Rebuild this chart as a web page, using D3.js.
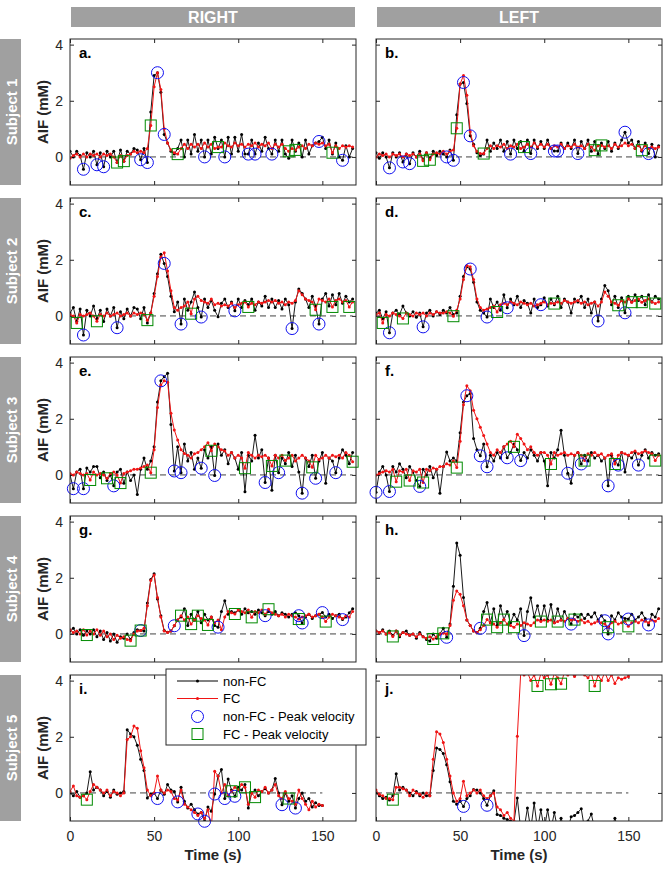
<!DOCTYPE html>
<html>
<head>
<meta charset="utf-8">
<script src="https://cdn.jsdelivr.net/npm/d3@7"></script>
<style>
  body { margin: 0; background: #fff; }
  text { font-family: "Liberation Sans", Arial, Helvetica, sans-serif; }
</style>
</head>
<body>
<div id="chart"></div>
<script>
// ---- data (AIF in mM, time in s) ----
const colNames = ["RIGHT", "LEFT"];
const rowNames = ["Subject 1", "Subject 2", "Subject 3", "Subject 4", "Subject 5"];
const panelLetters = ["a.", "b.", "c.", "d.", "e.", "f.", "g.", "h.", "i.", "j."];
const xTicks = [0, 50, 100, 150];
const yTicks = [0, 2, 4];
const legendLabels = ["non-FC", "FC", "non-FC - Peak velocity", "FC - Peak velocity"];

const timeLong = [0,2,4,6,8,10,12,14,16,18,20,22,24,26,28,30,32,34,36,38,40,42,44,46,48,50,52,54,56,58,
  60,62,64,66,68,70,72,74,76,78,80,82,84,86,88,90,92,94,96,98,100,102,104,106,108,110,112,114,116,118,
  120,122,124,126,128,130,132,134,136,138,140,142,144,146,148,150,152,154,156,158,160,162,164,166,168];
const timeShort = [0,2,4,6,8,10,12,14,16,18,20,22,24,26,28,30,32,34,36,38,40,42,44,46,48,50,52,54,56,58,
  60,62,64,66,68,70,72,74,76,78,80,82,84,86,88,90,92,94,96,98,100,102,104,106,108,110,112,114,116,118,
  120,122,124,126,128,130,132,134,136,138,140,142,144,146,148,150];

// a. Subject 1 right
const aNon = [0.2,0.0,0.2,0.05,-0.44,0.15,0.0,0.2,-0.28,0.15,
  -0.35,0.2,0.0,0.2,-0.2,0.25,-0.15,0.2,0.1,0.3,
  0.25,-0.1,0.3,-0.2,1.6,2.9,3.0,2.3,0.8,0.5,
  0.2,0.1,0.3,0.6,0.0,0.6,0.1,0.8,0.2,0.6,
  0.0,0.6,0.1,0.7,0.3,0.6,0.0,0.7,0.1,0.7,
  0.2,0.8,0.1,0.1,0.6,0.1,0.5,0.2,0.7,0.3,
  0.1,0.6,0.2,0.6,0.1,-0.05,0.6,0.2,0.5,0.0,
  0.6,0.1,0.4,0.5,0.55,0.7,0.3,0.6,0.1,0.5,
  0.0,-0.12,0.4,0.0,0.3];
const aFC = [-0.05,0.05,0.1,0.0,0.1,0.0,0.1,0.05,0.1,0.0,
  0.1,0.05,0.1,0.0,-0.2,0.05,-0.15,0.05,0.1,0.2,
  0.15,0.2,0.15,0.3,1.12,2.5,3.0,2.4,1.0,0.5,
  0.25,0.15,0.1,0.3,0.45,0.3,0.45,0.35,0.45,0.3,
  0.5,0.35,0.45,0.3,0.35,0.35,0.5,0.4,0.35,0.5,
  0.4,0.45,0.35,0.45,0.4,0.5,0.35,0.45,0.4,0.5,
  0.3,0.45,0.35,0.45,0.3,0.2,0.3,0.25,0.35,0.4,
  0.3,0.45,0.4,0.5,0.45,0.5,0.4,0.45,0.15,0.4,
  0.3,0.4,0.35,0.4,0.35];
const aCirc = [[8,-0.44],[16,-0.28],[20,-0.35],[42,-0.1],[46,-0.2],[52,3.0],[56,0.8],[80,0.0],[92,0.0],[106,0.1],[110,0.1],[120,0.1],[148,0.55],[162,-0.12]];
const aSq = [[28,-0.2],[32,-0.15],[48,1.12],[64,0.1],[88,0.35],[130,0.2],[134,0.25],[156,0.15]];

// b. Subject 1 left
const bNon = [0.15,-0.05,0.15,0.0,-0.39,0.15,0.0,0.15,-0.18,0.1,
  -0.24,0.15,0.0,0.2,-0.1,0.15,-0.05,0.2,0.05,0.2,
  0.1,0.0,0.25,-0.12,1.5,2.6,2.65,1.9,0.75,0.45,
  0.15,0.05,0.1,0.6,0.2,0.5,0.3,0.6,0.2,0.55,
  0.1,0.6,0.3,0.55,0.2,0.6,0.12,0.6,0.3,0.55,
  0.3,0.6,0.3,0.21,0.21,0.5,0.3,0.5,0.3,0.6,
  0.12,0.55,0.3,0.6,0.2,0.55,0.1,0.5,0.3,0.55,
  0.2,0.5,0.3,0.6,0.88,0.5,0.6,0.3,0.55,0.2,
  0.5,0.12,0.45,0.0,0.4];
const bFC = [0.0,0.1,0.05,0.1,0.0,0.1,0.05,0.1,0.0,0.1,
  0.05,0.1,0.0,0.1,-0.14,0.15,-0.1,0.1,0.15,0.1,
  0.2,0.1,0.2,0.25,1.02,2.6,2.9,2.2,0.9,0.4,
  0.2,0.12,0.12,0.3,0.4,0.3,0.4,0.35,0.45,0.3,
  0.4,0.35,0.45,0.3,0.35,0.45,0.35,0.5,0.35,0.45,
  0.35,0.45,0.3,0.4,0.35,0.45,0.3,0.4,0.35,0.45,
  0.35,0.4,0.3,0.45,0.35,0.24,0.4,0.41,0.35,0.4,
  0.3,0.45,0.35,0.4,0.5,0.4,0.45,0.3,0.4,0.24,
  0.4,0.3,0.35,0.3,0.35];
const bCirc = [[8,-0.39],[16,-0.18],[20,-0.24],[42,0],[46,-0.12],[52,2.65],[56,0.75],[80,0.1],[92,0.12],[106,0.21],[108,0.21],[120,0.12],[148,0.88],[162,0.12]];
const bSq = [[28,-0.14],[32,-0.1],[48,1.02],[64,0.12],[88,0.35],[130,0.24],[134,0.41],[158,0.24]];

// c. Subject 2 right
const cNon = [0.1,0.3,-0.2,0.25,-0.68,0.2,0.0,0.35,-0.1,0.2,
  -0.2,0.25,0.0,0.3,-0.42,0.15,-0.1,0.25,0.0,0.3,
  0.25,-0.1,0.3,-0.25,0.1,0.8,1.5,2.2,1.87,1.4,
  0.7,0.15,0.5,-0.29,0.6,0.2,0.5,0.85,0.3,-0.04,
  0.6,0.3,0.55,0.2,-0.03,0.45,0.6,0.3,0.5,0.18,
  0.6,0.3,0.55,0.4,0.6,0.2,0.5,0.35,0.7,0.3,
  0.6,0.3,0.55,0.25,0.6,0.4,-0.45,0.5,0.96,0.8,
  0.6,0.3,0.7,0.35,-0.29,0.6,0.8,0.35,0.75,0.4,
  0.8,0.45,0.7,0.5,0.6];
const cFC = [0.05,0.0,-0.25,0.05,0.0,0.05,0.1,0.0,-0.19,0.05,
  0.0,0.1,0.0,0.05,0.1,0.0,0.05,0.1,0.0,0.1,
  0.05,0.1,0.05,-0.15,0.1,0.7,1.4,2.1,2.25,1.6,
  0.9,0.3,0.2,0.3,0.35,0.5,0.08,0.6,0.7,0.55,
  0.5,0.45,0.6,0.4,0.45,0.35,0.4,0.35,0.45,0.3,
  0.4,0.45,0.5,0.32,0.45,0.4,0.5,0.45,0.5,0.55,
  0.5,0.55,0.45,0.5,0.4,0.5,0.45,0.55,0.9,0.75,
  0.6,0.55,0.5,0.22,0.6,0.55,0.5,0.6,0.32,0.55,
  0.6,0.5,0.55,0.32,0.5];
const cCirc = [[8,-0.68],[28,-0.42],[56,1.87],[66,-0.29],[78,-0.04],[98,0.18],[132,-0.45],[148,-0.29]];
const cSq = [[4,-0.25],[16,-0.19],[46,-0.15],[72,0.08],[106,0.32],[146,0.22],[156,0.32],[166,0.32]];

// d. Subject 2 left
const dNon = [0.1,0.2,-0.1,0.15,-0.6,0.1,0.2,0.05,0.35,0.1,
  0.0,0.15,-0.05,0.1,-0.39,0.1,0.2,0.0,0.15,0.05,
  0.2,0.1,0.3,0.05,0.1,0.7,1.4,1.75,1.67,1.2,
  0.5,0.2,0.1,-0.04,0.6,0.3,0.5,0.2,0.75,0.29,
  0.6,0.4,0.7,0.3,0.55,0.45,0.1,0.6,0.3,0.4,
  0.65,0.35,0.6,0.4,0.7,0.3,0.6,0.5,0.1,0.6,
  0.5,0.7,0.3,0.6,0.1,0.5,-0.18,0.6,1.08,0.9,
  0.4,0.7,0.3,0.65,0.11,0.7,0.5,0.75,0.55,0.7,
  0.4,0.75,0.5,0.7,0.6];
const dFC = [0.05,0.1,-0.25,0.05,0.0,0.1,0.05,0.0,-0.09,0.1,
  0.05,0.0,0.1,0.05,0.1,0.0,0.1,0.05,0.15,0.1,
  0.1,0.15,0.1,-0.01,0.2,0.6,1.3,1.8,1.75,1.3,
  0.6,0.3,0.2,0.25,0.3,0.35,0.14,0.4,0.45,0.4,
  0.5,0.45,0.4,0.5,0.45,0.4,0.45,0.35,0.4,0.45,
  0.5,0.4,0.45,0.44,0.5,0.45,0.55,0.5,0.45,0.5,
  0.55,0.45,0.5,0.4,0.45,0.5,0.35,0.5,0.85,0.7,
  0.5,0.45,0.38,0.55,0.5,0.6,0.49,0.55,0.6,0.49,
  0.55,0.6,0.5,0.44,0.5];
const dCirc = [[8,-0.6],[28,-0.39],[56,1.67],[66,-0.04],[78,0.29],[98,0.4],[132,-0.18],[148,0.11]];
const dSq = [[4,-0.25],[16,-0.09],[46,-0.01],[72,0.14],[106,0.44],[144,0.38],[152,0.49],[158,0.49],[166,0.44]];

// e. Subject 3 right
const eNon = [0.0,-0.49,0.1,0.2,-0.49,0.25,0.1,0.3,0.3,-0.1,
  0.1,-0.2,0.0,-0.39,0.1,0.2,-0.3,0.1,-0.2,0.0,
  -0.7,0.2,0.6,0.2,0.5,1.0,2.6,3.35,3.5,3.62,
  1.8,0.14,1.0,0.08,1.1,0.5,0.8,0.2,0.6,0.24,
  0.9,0.6,1.0,-0.02,1.1,0.7,0.9,0.4,0.8,0.6,
  0.2,0.8,-0.6,0.7,0.5,1.41,0.6,0.9,-0.27,0.6,
  -0.55,0.7,0.08,0.6,0.4,0.8,0.3,0.7,0.1,-0.65,
  0.6,0.3,0.7,-0.12,0.5,0.8,-0.3,0.6,0.5,0.08,
  0.6,0.9,0.7,0.4,0.8];
const eFC = [0.05,0.0,0.1,0.05,0.0,0.05,-0.18,0.1,0.0,0.05,
  0.0,-0.12,0.05,0.1,0.0,-0.29,0.05,0.1,0.15,0.2,
  0.2,0.25,0.3,0.35,0.08,0.9,2.4,3.2,3.35,3.3,
  2.2,1.6,1.24,0.9,0.76,0.7,0.6,0.75,0.8,0.9,
  1.0,1.15,0.86,1.1,1.0,0.9,0.85,0.7,0.8,0.6,
  0.7,0.6,0.24,0.8,0.7,0.6,0.7,0.65,0.7,0.6,
  0.32,0.7,0.6,0.7,0.51,0.6,0.7,0.5,0.6,0.7,
  0.6,0.5,0.27,0.7,0.55,0.6,0.7,0.6,0.7,0.65,
  0.7,0.6,0.8,0.7,0.47];
const eCirc = [[2,-0.49],[8,-0.49],[26,-0.39],[54,3.35],[62,0.14],[66,0.08],[78,0.24],[86,-0.02],[116,-0.27],[124,0.08],[138,-0.65],[146,-0.12],[158,0.08]];
const eSq = [[12,-0.18],[22,-0.12],[30,-0.29],[48,0.08],[84,0.86],[104,0.24],[120,0.32],[128,0.51],[144,0.27],[168,0.47]];

// f. Subject 3 left
const fNon = [-0.62,0.1,0.3,0.0,-0.59,0.3,0.1,0.4,0.2,-0.1,
  0.3,0.1,-0.2,-0.41,0.2,0.0,0.3,-0.1,0.2,-0.65,
  0.3,0.82,0.5,0.6,0.5,1.5,2.6,2.82,2.9,1.3,
  0.9,0.68,1.1,0.29,0.7,0.5,0.8,0.6,1.0,0.61,
  0.8,1.1,0.9,0.51,0.8,0.6,0.9,0.7,0.5,0.8,
  0.5,-0.39,0.8,0.6,0.9,1.59,0.7,0.06,-0.3,0.7,
  0.8,0.39,0.7,0.5,0.8,0.6,0.7,0.5,0.6,-0.39,
  0.7,0.5,0.35,0.8,0.1,0.7,0.6,0.8,0.35,0.7,
  0.9,0.6,0.8,0.7,0.75];
const fFC = [0.0,0.05,0.1,0.15,0.1,0.2,-0.24,0.15,0.1,0.2,
  -0.2,0.15,0.1,0.2,-0.27,0.2,0.15,0.25,0.2,0.3,
  0.3,0.4,0.35,0.5,0.26,1.2,2.5,3.18,3.0,2.3,
  2.0,1.7,1.4,1.1,0.8,0.7,0.9,0.8,1.0,1.1,
  1.2,1.0,1.45,1.3,1.1,0.9,1.0,0.8,0.7,0.8,
  0.8,0.7,0.39,0.8,0.7,0.75,0.8,0.7,0.75,0.7,
  0.8,0.7,0.51,0.75,0.7,0.8,0.7,0.75,0.6,0.7,
  0.75,0.39,0.7,0.8,0.75,0.7,0.8,0.85,0.75,0.8,
  0.85,0.8,0.75,0.51,0.7];
const fCirc = [[0,-0.62],[8,-0.59],[26,-0.41],[54,2.82],[62,0.68],[66,0.29],[78,0.61],[86,0.51],[114,0.06],[122,0.39],[138,-0.39],[144,0.35],[156,0.35]];
const fSq = [[12,-0.24],[20,-0.2],[28,-0.27],[48,0.26],[82,1.0],[104,0.39],[124,0.51],[142,0.39],[166,0.51]];

// g. Subject 4 right
const gNon = [0.1,0.2,0.0,0.15,-0.05,0.1,0.0,0.15,-0.1,0.1,
  -0.2,0.05,-0.25,0.0,-0.3,-0.1,-0.15,0.0,-0.2,0.05,
  0.15,0.12,0.1,1.1,1.94,2.14,1.24,0.65,0.12,0.06,
  0.1,0.29,0.5,0.6,0.9,0.3,0.7,0.5,0.8,0.4,
  0.7,0.5,0.6,0.3,0.24,0.8,1.18,0.7,0.8,0.75,
  0.85,0.7,0.9,0.75,0.8,0.7,0.85,0.75,0.65,0.8,
  0.7,0.8,0.65,0.75,0.7,0.6,0.7,0.75,0.65,0.39,
  0.6,0.7,0.55,0.65,0.7,0.76,0.6,0.7,0.55,0.65,
  0.7,0.51,0.6,0.75,0.9];
const gFC = [0.15,0.05,0.1,0.0,0.15,-0.04,0.1,0.0,0.15,-0.05,
  0.1,-0.1,0.0,-0.2,-0.05,-0.15,-0.1,-0.2,-0.24,0.0,
  0.1,0.12,0.2,1.0,1.9,2.1,1.3,0.6,0.1,0.05,
  0.1,0.3,0.5,0.65,0.5,0.6,0.35,0.5,0.65,0.55,
  0.5,0.32,0.6,0.4,0.5,0.15,0.6,0.8,0.75,0.71,
  0.85,0.8,0.75,0.85,0.59,0.8,0.75,0.85,0.7,0.88,
  0.75,0.7,0.65,0.7,0.6,0.7,0.65,0.6,0.53,0.6,
  0.65,0.7,0.6,0.65,0.7,0.6,0.44,0.6,0.7,0.65,
  0.6,0.55,0.65,0.6,0.8];
const gCirc = [[42,0.12],[62,0.29],[88,0.24],[116,0.65],[136,0.65],[138,0.39],[150,0.76],[162,0.51]];
const gSq = [[10,-0.04],[36,-0.24],[42,0.12],[66,0.65],[72,0.35],[76,0.65],[82,0.32],[98,0.71],[108,0.59],[118,0.88],[136,0.53],[152,0.44]];

// h. Subject 4 left
const hNon = [0.1,0.05,0.15,0.0,0.1,-0.05,0.1,-0.1,0.05,0.1,
  -0.05,0.0,-0.15,0.05,-0.1,-0.2,-0.25,0.0,-0.15,0.0,
  0.2,-0.12,0.35,1.7,3.24,2.8,1.3,0.5,0.3,0.1,
  0.05,0.2,0.8,1.12,0.4,0.9,0.3,1.0,0.5,0.8,
  0.4,0.7,0.5,0.9,-0.06,0.8,1.29,0.6,1.0,0.5,
  1.0,0.5,1.05,0.4,0.9,0.5,0.8,0.55,0.35,0.7,
  0.6,0.7,0.55,0.7,0.6,0.75,0.5,0.65,0.47,0.0,
  0.65,0.5,0.75,0.6,0.55,0.53,0.7,0.5,0.6,0.75,
  0.55,0.32,0.7,0.6,0.9];
const hFC = [0.1,0.05,0.1,0.0,0.05,-0.09,0.1,-0.05,0.05,0.0,
  -0.05,0.0,-0.1,0.0,-0.1,-0.15,-0.1,-0.18,-0.1,0.0,
  0.02,0.0,0.3,1.2,1.53,1.41,1.0,0.5,0.3,0.1,
  0.05,0.15,0.3,0.51,0.4,0.35,0.24,0.4,0.51,0.35,
  0.3,0.24,0.35,0.3,0.4,0.35,0.3,0.4,0.5,0.44,
  0.5,0.45,0.5,0.4,0.44,0.5,0.45,0.55,0.5,0.51,
  0.45,0.5,0.4,0.45,0.35,0.4,0.45,0.4,0.35,0.24,
  0.4,0.45,0.35,0.4,0.45,0.27,0.4,0.45,0.4,0.5,
  0.45,0.4,0.5,0.45,0.55];
const hCirc = [[42,-0.12],[62,0.2],[88,-0.06],[116,0.35],[136,0.47],[138,0.0],[150,0.53],[162,0.32]];
const hSq = [[10,-0.09],[34,-0.18],[40,0.02],[66,0.51],[72,0.24],[76,0.51],[82,0.24],[98,0.44],[108,0.44],[118,0.51],[138,0.24],[150,0.27]];

// i. Subject 5 right
const iNon = [0.0,-0.1,0.05,-0.15,-0.1,0.0,0.75,0.1,0.2,0.1,
  -0.1,0.05,-0.15,0.1,-0.05,0.0,0.05,2.25,2.1,2.0,
  1.7,1.2,0.8,-0.18,-0.05,0.0,-0.2,0.1,-0.05,0.3,
  0.1,0.05,-0.32,0.2,-0.3,-0.54,-0.4,-0.6,-0.75,-0.7,
  -1.01,-0.5,-0.65,-0.04,0.6,0.83,-0.2,0.5,0.1,-0.12,
  0.2,0.1,0.3,-0.54,0.0,0.1,-0.1,0.05,0.15,0.0,
  0.1,0.51,0.0,-0.42,0.0,-0.3,-0.1,-0.54,-0.2,0.0,
  -0.3,-0.2,-0.5,-0.35,-0.45,-0.45];
const iFC = [0.05,0.25,-0.1,-0.15,-0.1,-0.24,0.05,0.3,0.2,0.1,
  0.0,0.1,-0.1,0.05,0.0,-0.1,0.0,1.9,2.0,2.38,
  2.3,1.5,0.9,0.1,-0.1,0.0,0.6,0.1,0.0,0.1,
  0.05,-0.2,-0.25,0.1,-0.4,-0.5,-0.6,-0.7,-0.8,-0.7,
  -0.9,-0.6,-1.3,0.77,0.6,0.0,0.3,-0.1,0.06,0.2,
  0.1,0.3,0.2,-0.4,0.0,-0.15,0.1,0.05,0.2,0.0,
  0.1,0.3,-0.1,-0.2,0.05,-0.2,-0.3,-0.4,0.1,-0.2,
  -0.4,-0.6,-0.3,-0.5,-0.4,-0.45];
const iCirc = [[52,-0.2],[64,-0.32],[76,-0.75],[80,-1.01],[86,-0.04],[92,-0.2],[98,-0.12],[126,-0.42],[134,-0.54]];
const iSq = [[10,-0.24],[96,0.06],[104,0.2],[110,-0.15],[130,-0.2]];

// j. Subject 5 left
const jNon = [0.0,-0.1,-0.2,-0.15,-0.25,-0.1,0.68,0.1,0.2,0.1,
  0.0,-0.1,0.05,-0.1,0.0,-0.1,-0.1,0.8,1.6,1.55,
  1.4,1.0,0.4,-0.3,-0.4,-0.3,-0.48,-0.2,-0.1,0.12,
  0.1,0.0,-0.2,-0.44,-0.1,0.08,-0.77,-0.8,-0.9,-0.95,
  -1.0,-1.05,-0.18,-1.3,-1.3,-0.54,-1.3,-0.36,-1.3,-0.6,
  -1.3,-0.6,-1.3,-0.7,-1.3,-0.9,-1.3,-1.3,-0.85,-0.8,
  -0.7,-0.56,-1.3,-1.0,-0.75,-1.3,-1.3,-1.3,-1.3,-1.3,
  -1.3,-0.9,-1.3,-1.3,-1.3,-1.3];
const jFC = [0.1,-0.05,-0.1,-0.2,-0.2,-0.24,0.2,0.2,0.15,0.1,
  -0.1,0.1,0.0,-0.05,-0.15,0.0,-0.1,1.2,2.18,2.1,
  1.8,1.2,0.6,0.0,-0.3,-0.2,0.42,-0.1,0.0,0.1,
  0.0,0.1,-0.1,-0.2,-0.1,0.0,-0.5,-0.6,-0.8,-0.7,
  -0.9,-1.0,2.02,4.25,4.2,4.3,4.0,4.2,3.81,4.25,
  4.1,4.2,3.87,4.25,4.1,3.89,4.3,4.2,4.25,4.15,
  4.25,4.3,4.2,4.1,4.25,3.81,4.2,4.0,4.3,4.0,
  4.2,3.9,4.1,4.05,4.1,4.15];
const jCirc = [[52,-0.48],[66,-0.44]];
const jSq = [[10,-0.24],[96,3.81],[104,3.87],[110,3.89],[130,3.81]];

// panel table built from the arrays above (row-major: right, left)
const panels = [
  { t: timeLong, non: aNon, fc: aFC, circ: aCirc, sq: aSq },
  { t: timeLong, non: bNon, fc: bFC, circ: bCirc, sq: bSq },
  { t: timeLong, non: cNon, fc: cFC, circ: cCirc, sq: cSq },
  { t: timeLong, non: dNon, fc: dFC, circ: dCirc, sq: dSq },
  { t: timeLong, non: eNon, fc: eFC, circ: eCirc, sq: eSq },
  { t: timeLong, non: fNon, fc: fFC, circ: fCirc, sq: fSq },
  { t: timeLong, non: gNon, fc: gFC, circ: gCirc, sq: gSq },
  { t: timeLong, non: hNon, fc: hFC, circ: hCirc, sq: hSq },
  { t: timeShort, non: iNon, fc: iFC, circ: iCirc, sq: iSq },
  { t: timeShort, non: jNon, fc: jFC, circ: jCirc, sq: jSq }
];

// ---- layout ----
const W = 670, H = 871;
const colX = [70, 376];
const rowY = [39, 198, 357, 516, 675];
const plotW = 286, plotH = 146;
const GRAY = "#a0a0a0", AX = "#262626";
const BLACK = "#000000", RED = "#f01414", BLUE = "#1010f0", GREEN = "#008a00";

const svg = d3.select("#chart").append("svg")
  .attr("width", W).attr("height", H);

const x = d3.scaleLinear().domain([0, 170]).range([0, plotW]);
const y = d3.scaleLinear().domain([-1, 4.2]).range([plotH, 0]);
const fmt = d3.format("d");

// column headers
colNames.forEach((name, c) => {
  svg.append("rect")
    .attr("x", colX[c] + 1).attr("y", 7)
    .attr("width", plotW - 2).attr("height", 20)
    .attr("fill", GRAY);
  svg.append("text")
    .attr("x", colX[c] + plotW / 2).attr("y", 23)
    .attr("text-anchor", "middle")
    .attr("font-size", 16).attr("font-weight", "bold")
    .attr("fill", "#fff")
    .text(name);
});

// row labels
rowNames.forEach((name, r) => {
  svg.append("rect")
    .attr("x", 0).attr("y", rowY[r])
    .attr("width", 21).attr("height", plotH)
    .attr("fill", GRAY);
  svg.append("text")
    .attr("transform", `translate(16.5,${rowY[r] + plotH / 2}) rotate(-90)`)
    .attr("text-anchor", "middle")
    .attr("font-size", 15).attr("font-weight", "bold")
    .attr("fill", "#fff")
    .text(name);
});

function styleAxis(sel, showLabels) {
  sel.select(".domain").remove();
  sel.selectAll(".tick line").attr("stroke", AX);
  sel.selectAll(".tick text")
    .attr("fill", AX).attr("font-size", 14)
    .attr("font-family", '"Liberation Sans", Arial, sans-serif');
  if (!showLabels) sel.selectAll(".tick text").remove();
}

const line = d3.line().x(d => x(d[0])).y(d => y(d[1]));

panels.forEach((p, k) => {
  const r = Math.floor(k / 2), c = k % 2;
  const g = svg.append("g").attr("transform", `translate(${colX[c]},${rowY[r]})`);

  const clipId = "clip" + k;
  g.append("clipPath").attr("id", clipId)
    .append("rect").attr("width", plotW).attr("height", plotH);

  // axes with inward ticks on all four sides
  g.append("g").attr("transform", `translate(0,${plotH})`)
    .call(d3.axisBottom(x).tickValues(xTicks).tickFormat(fmt).tickSize(-4).tickSizeOuter(0).tickPadding(10))
    .call(s => styleAxis(s, r === 4));
  g.append("g")
    .call(d3.axisTop(x).tickValues(xTicks).tickSize(-4).tickSizeOuter(0))
    .call(s => styleAxis(s, false));
  g.append("g")
    .call(d3.axisLeft(y).tickValues(yTicks).tickFormat(fmt).tickSize(-4).tickSizeOuter(0).tickPadding(7))
    .call(s => styleAxis(s, c === 0));
  g.append("g").attr("transform", `translate(${plotW},0)`)
    .call(d3.axisRight(y).tickValues(yTicks).tickSize(-4).tickSizeOuter(0))
    .call(s => styleAxis(s, false));

  const plot = g.append("g").attr("clip-path", `url(#${clipId})`);

  // zero reference line over the data range
  plot.append("line")
    .attr("x1", x(p.t[0])).attr("x2", x(p.t[p.t.length - 1]))
    .attr("y1", y(0)).attr("y2", y(0))
    .attr("stroke", "#444").attr("stroke-width", 1)
    .attr("stroke-dasharray", "6,4");

  const series = [
    { vals: p.non, color: BLACK, w: 0.9 },
    { vals: p.fc, color: RED, w: 1 }
  ];
  series.forEach(s => {
    const pts = p.t.map((t, i) => [t, s.vals[i]]);
    plot.append("path").datum(pts)
      .attr("d", line)
      .attr("fill", "none")
      .attr("stroke", s.color).attr("stroke-width", s.w);
    plot.selectAll(null).data(pts).enter().append("circle")
      .attr("cx", d => x(d[0])).attr("cy", d => y(d[1]))
      .attr("r", 1.5).attr("fill", s.color);
  });

  // peak-velocity markers
  g.selectAll(null).data(p.circ).enter().append("circle")
    .attr("cx", d => x(d[0])).attr("cy", d => y(d[1]))
    .attr("r", 6).attr("fill", "none")
    .attr("stroke", BLUE).attr("stroke-width", 1);
  g.selectAll(null).data(p.sq).enter().append("rect")
    .attr("x", d => x(d[0]) - 5.5).attr("y", d => y(d[1]) - 5.5)
    .attr("width", 11).attr("height", 11)
    .attr("fill", "none")
    .attr("stroke", GREEN).attr("stroke-width", 1);

  // box
  g.append("rect")
    .attr("width", plotW).attr("height", plotH)
    .attr("fill", "none").attr("stroke", AX).attr("stroke-width", 1);

  // panel letter
  g.append("text")
    .attr("x", 9).attr("y", 19)
    .attr("font-size", 15).attr("font-weight", "bold")
    .attr("fill", "#000")
    .text(panelLetters[k]);

  if (c === 0) {
    g.append("text")
      .attr("transform", `translate(-22,${plotH / 2}) rotate(-90)`)
      .attr("text-anchor", "middle")
      .attr("font-size", 15).attr("font-weight", "bold")
      .attr("fill", AX)
      .text("AIF (mM)");
  }
  if (r === 4) {
    g.append("text")
      .attr("x", plotW / 2).attr("y", plotH + 39)
      .attr("text-anchor", "middle")
      .attr("font-size", 15).attr("font-weight", "bold")
      .attr("fill", AX)
      .text("Time (s)");
  }
});

// legend (inside panel i)
const lg = svg.append("g").attr("transform", "translate(166,669)");
lg.append("rect")
  .attr("width", 200).attr("height", 76)
  .attr("fill", "#fff").attr("stroke", AX).attr("stroke-width", 1);
const rowOff = [12, 29.5, 47.5, 65];
legendLabels.forEach((lab, i) => {
  const yy = rowOff[i];
  if (i < 2) {
    const col = i === 0 ? BLACK : RED;
    lg.append("line").attr("x1", 11).attr("x2", 52).attr("y1", yy).attr("y2", yy)
      .attr("stroke", col).attr("stroke-width", 1);
    lg.append("circle").attr("cx", 31.5).attr("cy", yy).attr("r", 1.5).attr("fill", col);
  } else if (i === 2) {
    lg.append("circle").attr("cx", 31.5).attr("cy", yy).attr("r", 6)
      .attr("fill", "none").attr("stroke", BLUE).attr("stroke-width", 1);
  } else {
    lg.append("rect").attr("x", 26).attr("y", yy - 5.5).attr("width", 11).attr("height", 11)
      .attr("fill", "none").attr("stroke", GREEN).attr("stroke-width", 1);
  }
  lg.append("text").attr("x", 57).attr("y", yy).attr("dy", "0.35em")
    .attr("font-size", 13).attr("fill", "#000")
    .text(lab);
});
</script>
</body>
</html>
